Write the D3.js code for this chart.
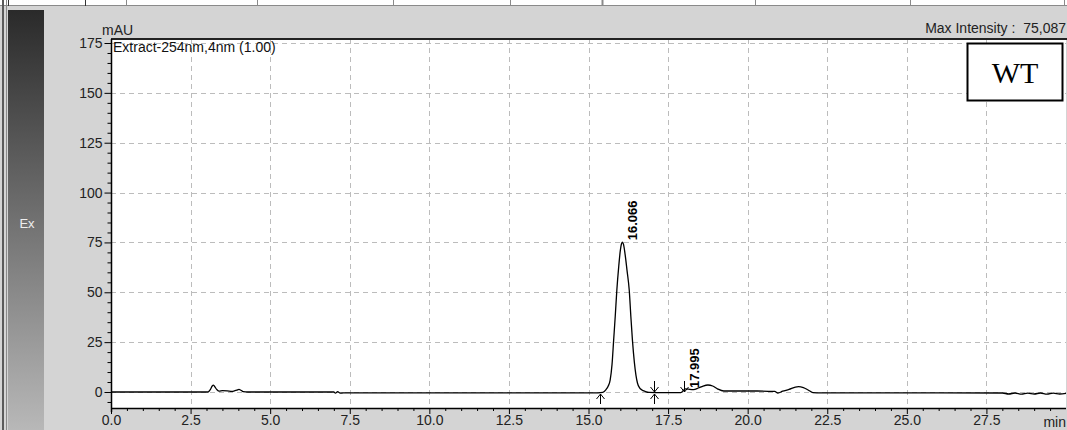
<!DOCTYPE html>
<html>
<head>
<meta charset="utf-8">
<script src="https://cdn.jsdelivr.net/npm/d3@7/dist/d3.min.js"></script>
<style>
  html, body { margin: 0; padding: 0; background: #d4d4d4; }
  svg { display: block; font-family: "Liberation Sans", Arial, sans-serif; }
</style>
</head>
<body>
<svg id="chart" width="1067" height="430"></svg>
<script>
// Chromatogram trace: retention time (min) and absorbance (mAU)
const traceTime = [
  0.0, 1.0, 2.0, 3.05, 3.12, 3.18, 3.22, 3.27, 3.33, 3.4, 3.5, 3.65, 3.8, 3.88, 3.95, 4.02, 4.08, 4.15, 4.3,
  5.5, 7.0, 7.05, 7.12, 7.2, 7.3, 9.0, 11.0, 13.0, 14.5, 15.3,
  15.45, 15.55, 15.62, 15.68, 15.74, 15.79, 15.84, 15.89, 15.95, 16.0, 16.04, 16.066, 16.1, 16.15, 16.21,
  16.28, 16.33, 16.38, 16.44, 16.49, 16.54, 16.6, 16.68, 16.78, 16.9, 17.3, 17.9,
  17.995, 18.05, 18.15, 18.3, 18.45, 18.6, 18.75, 18.9, 19.05, 19.25, 19.6, 20.3, 20.85, 20.95,
  21.1, 21.3, 21.5, 21.6, 21.75, 21.9, 22.05, 22.3, 24.0, 26.0, 28.0,
  28.2, 28.4, 28.6, 28.8, 29.0, 29.2, 29.4, 29.6, 29.8, 30.0
];
const traceValue = [
  0.0, 0.0, 0.0, 0.0, 1.2, 3.0, 3.4, 2.4, 1.1, 0.4, 0.7, 0.6, 0.3, 0.6, 0.9, 1.3, 0.9, 0.2, 0.0,
  0.0, 0.0, -0.6, 0.2, -0.6, -0.4, -0.4, -0.4, -0.4, -0.4, -0.4,
  -0.2, 1.2, 3.0, 6.0, 14.0, 26.0, 38.0, 51.0, 63.0, 71.0, 74.5, 75.087, 74.0, 69.0, 61.0,
  51.0, 38.0, 26.0, 15.0, 8.5, 4.4, 2.2, 1.0, 0.3, -0.2, -0.3, -0.3,
  1.0, 1.6, 1.4, 1.2, 2.0, 3.0, 3.5, 3.0, 1.6, 0.5, 0.5, 0.5, 0.3, -0.5,
  0.4, 1.3, 2.5, 2.7, 2.2, 1.0, -0.3, -0.4, -0.4, -0.4, -0.5,
  -1.0, -0.5, -1.1, -0.6, -1.0, -0.5, -1.1, -0.6, -1.0, -0.7
];

// Labelled peaks (retention time, height at label foot)
const peakTimes = [16.066, 17.995];
const peakLabelBase = [75.087, 1.0];
const peakLabels = ["16.066", "17.995"];

// Integration marks: peak start / boundary / valley
const markTimes = [15.35, 17.07, 18.01];
const markKinds = ["up", "both", "down"];

// Axis ticks
const xMajorTicks = [0, 2.5, 5, 7.5, 10, 12.5, 15, 17.5, 20, 22.5, 25, 27.5];
const xTickLabels = ["0.0", "2.5", "5.0", "7.5", "10.0", "12.5", "15.0", "17.5", "20.0", "22.5", "25.0", "27.5"];
const yMajorTicks = [0, 25, 50, 75, 100, 125, 150, 175];

const svg = d3.select("#chart");
const W = 1067, H = 430;
const plot = { left: 111, right: 1066, top: 39, bottom: 408 };
const FS = 14;

const x = d3.scaleLinear().domain([0, 30]).range([plot.left, plot.right]);
const y = d3.scaleLinear().domain([0, 175]).range([392, 43]);

// Window frame
svg.append("rect").attr("width", W).attr("height", H).attr("fill", "#d4d4d4");
svg.append("rect").attr("x", 0).attr("y", 0).attr("width", W).attr("height", 6).attr("fill", "#ffffff");
svg.append("line").attr("x1", 0).attr("x2", W).attr("y1", 5.5).attr("y2", 5.5).attr("stroke", "#8a8a8a");
const cellEdges = [8, 85, 126, 257, 393, 510, 602, 755, 910, 1064];
svg.selectAll("line.cell").data(cellEdges).join("line")
  .attr("class", "cell")
  .attr("x1", d => d + 0.5).attr("x2", d => d + 0.5)
  .attr("y1", 0).attr("y2", 6)
  .attr("stroke", (d, i) => (i <= 1 ? "#333" : "#8a8a8a"))
  .attr("stroke-width", (d, i) => (d === 602 ? 2 : 1));
svg.append("rect").attr("x", 2).attr("y", 0).attr("width", 2).attr("height", H).attr("fill", "#5a5a5a");
svg.append("rect").attr("x", 6).attr("y", 0).attr("width", 1).attr("height", H).attr("fill", "#8a8a8a");

// Side tab with vertical shading
const defs = svg.append("defs");
const grad = defs.append("linearGradient").attr("id", "tab").attr("x1", 0).attr("y1", 0).attr("x2", 0).attr("y2", 1);
grad.append("stop").attr("offset", "0%").attr("stop-color", "#2a2a2a");
grad.append("stop").attr("offset", "100%").attr("stop-color", "#b8b8b8");
svg.append("rect").attr("x", 8).attr("y", 10).attr("width", 36).attr("height", H - 10).attr("fill", "url(#tab)");
svg.append("text").attr("x", 27).attr("y", 228).attr("text-anchor", "middle")
  .attr("font-size", 13).attr("fill", "#eeeeee").text("Ex");

// Plot area
svg.append("rect").attr("x", plot.left).attr("y", plot.top)
  .attr("width", plot.right - plot.left).attr("height", plot.bottom - plot.top).attr("fill", "#ffffff");

// Dashed grid
const grid = svg.append("g").attr("stroke", "#bcbcbc").attr("stroke-dasharray", "5,4").attr("stroke-width", 1);
grid.selectAll("line.gx").data(xMajorTicks.filter(d => d > 0)).join("line")
  .attr("x1", d => Math.round(x(d)) + 0.5).attr("x2", d => Math.round(x(d)) + 0.5)
  .attr("y1", plot.top).attr("y2", plot.bottom);
grid.selectAll("line.gy").data(yMajorTicks).join("line")
  .attr("x1", plot.left).attr("x2", plot.right)
  .attr("y1", d => Math.round(y(d)) + 0.5).attr("y2", d => Math.round(y(d)) + 0.5);

// Plot borders
svg.append("line").attr("x1", plot.left).attr("x2", W).attr("y1", plot.top).attr("y2", plot.top)
  .attr("stroke", "#222").attr("stroke-width", 2);

// Y axis
const yAxis = d3.axisLeft(y).tickValues(yMajorTicks).tickSize(7).tickFormat(d3.format("d"));
const gy = svg.append("g").attr("transform", `translate(${plot.left + 0.5},0)`).call(yAxis);
gy.select(".domain").remove();
gy.selectAll(".tick line").attr("stroke", "#000");
gy.selectAll(".tick text").attr("font-size", FS).attr("fill", "#222")
  .attr("font-family", "Liberation Sans, Arial, sans-serif").attr("x", -9);
const yMinor = d3.axisLeft(y).tickValues(d3.range(-5, 176, 5).filter(v => v % 25 !== 0)).tickSize(4).tickFormat("");
const gym = svg.append("g").attr("transform", `translate(${plot.left + 0.5},0)`).call(yMinor);
gym.select(".domain").remove();
gym.selectAll(".tick line").attr("stroke", "#000");
svg.append("line").attr("x1", plot.left + 0.5).attr("x2", plot.left + 0.5)
  .attr("y1", plot.top).attr("y2", plot.bottom + 4).attr("stroke", "#000").attr("stroke-width", 1.5);

// X axis
const xAxis = d3.axisBottom(x).tickValues(xMajorTicks).tickSize(6).tickFormat((d, i) => xTickLabels[i]);
const gx = svg.append("g").attr("transform", `translate(0,${plot.bottom})`).call(xAxis);
gx.select(".domain").remove();
gx.selectAll(".tick line").attr("stroke", "#000");
gx.selectAll(".tick text").attr("font-size", FS).attr("fill", "#222")
  .attr("font-family", "Liberation Sans, Arial, sans-serif").attr("y", 7);
const xMinor = d3.axisBottom(x).tickValues(d3.range(0.5, 30.01, 0.5).filter(v => v % 2.5 !== 0)).tickSize(3).tickFormat("");
const gxm = svg.append("g").attr("transform", `translate(0,${plot.bottom})`).call(xMinor);
gxm.select(".domain").remove();
gxm.selectAll(".tick line").attr("stroke", "#000");
svg.append("line").attr("x1", plot.left).attr("x2", plot.right).attr("y1", plot.bottom + 0.5).attr("y2", plot.bottom + 0.5)
  .attr("stroke", "#000").attr("stroke-width", 1.5);
svg.append("text").attr("x", W - 1).attr("y", 427).attr("text-anchor", "end")
  .attr("font-size", FS).attr("fill", "#222").text("min");

// Header texts
svg.append("text").attr("x", 102).attr("y", 35).attr("font-size", FS).attr("fill", "#222").text("mAU");
svg.append("text").attr("x", 113).attr("y", 52).attr("font-size", FS).attr("fill", "#111").text("Extract-254nm,4nm (1.00)");
svg.append("text").attr("x", W - 1).attr("y", 33).attr("text-anchor", "end")
  .attr("font-size", FS).attr("fill", "#222").attr("xml:space", "preserve").text("Max Intensity :  75,087");

// Trace
const pts = traceTime.map((t, i) => [t, traceValue[i]]);
const line = d3.line().x(d => x(d[0])).y(d => y(d[1])).curve(d3.curveMonotoneX);
svg.append("path").datum(pts).attr("d", line).attr("fill", "none")
  .attr("stroke", "#000").attr("stroke-width", 1.3);

// Integration marks
const marks = svg.append("g").attr("stroke", "#000").attr("stroke-width", 1).attr("fill", "none");
markTimes.forEach((t, i) => {
  const mx = Math.round(x(t)) + 0.5;
  const base = y(0);
  const kind = markKinds[i];
  if (kind === "up" || kind === "both") {
    marks.append("path").attr("d", `M${mx},${base + 12}V${base + 2}M${mx - 4},${base + 7}L${mx},${base + 2}L${mx + 4},${base + 7}`);
  }
  if (kind === "down" || kind === "both") {
    marks.append("path").attr("d", `M${mx},${base - 11}V${base}M${mx - 4},${base - 5}L${mx},${base}L${mx + 4},${base - 5}`);
  }
});

// Peak labels
peakTimes.forEach((t, i) => {
  svg.append("text")
    .attr("transform", `translate(${x(t) + 15},${y(peakLabelBase[i]) - 2}) rotate(-90)`)
    .attr("font-size", 13).attr("font-weight", "bold").attr("fill", "#000")
    .text(peakLabels[i]);
});

// Sample tag
svg.append("rect").attr("x", 967.5).attr("y", 43.5).attr("width", 95).attr("height", 57)
  .attr("fill", "#fff").attr("stroke", "#000").attr("stroke-width", 2);
svg.append("text").attr("x", 1015).attr("y", 83).attr("text-anchor", "middle")
  .attr("font-family", "Liberation Serif, Times New Roman, serif").attr("font-size", 30).attr("fill", "#000").text("WT");
</script>
</body>
</html>
